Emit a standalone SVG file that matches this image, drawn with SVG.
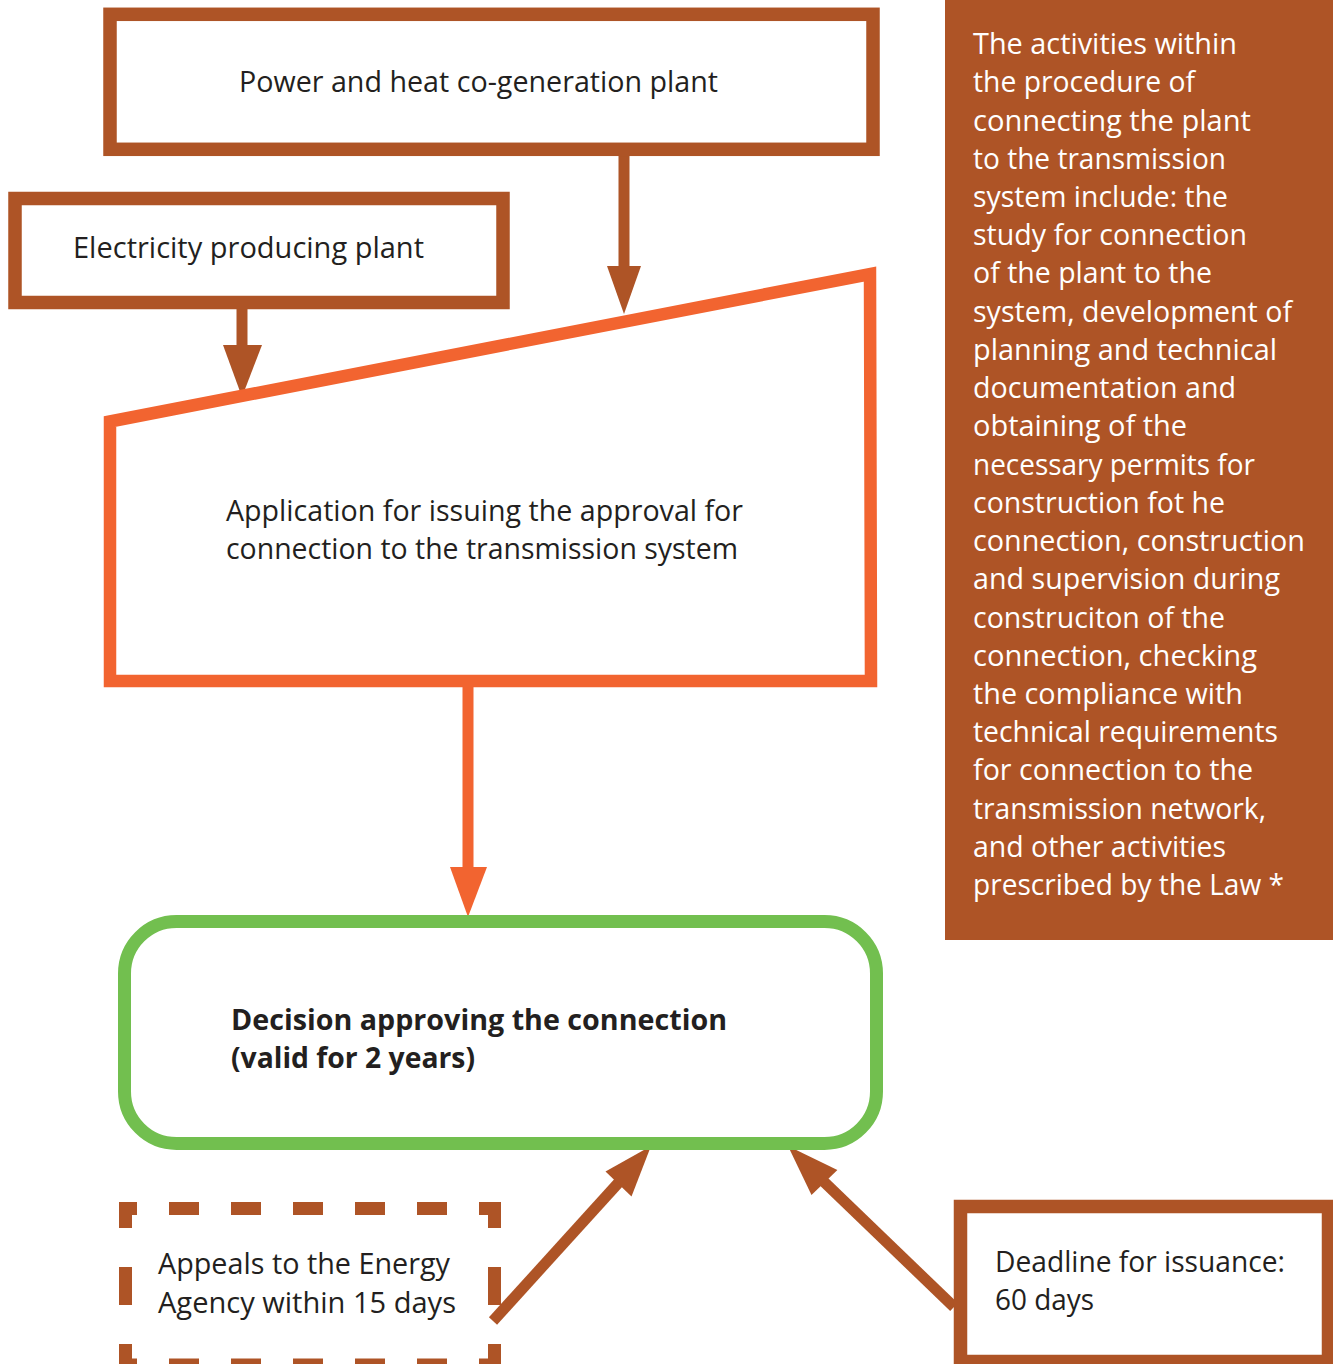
<svg xmlns="http://www.w3.org/2000/svg" width="1333" height="1364" viewBox="0 0 1333 1364">
<style>
.t{font-family:"Open Sans","Liberation Sans",sans-serif;font-size:29px;fill:#231F20}
.b{font-weight:bold}
.w{font-family:"Open Sans","Liberation Sans",sans-serif;font-size:29px;fill:#FFFFFF}
.brown{fill:#FFFFFF;stroke:#AE5426;stroke-width:13.5}
.dash{stroke:#AE5426;stroke-width:13;fill:none}
.abr{stroke:#AE5426;stroke-width:11;fill:none}
.hbr{fill:#AE5426}
.aor{stroke:#F26430;stroke-width:11;fill:none}
.hor{fill:#F26430}
</style>
<rect x="0" y="0" width="1333" height="1364" fill="#FFFFFF"/>

<g id="panel">
<rect x="945" y="0" width="388" height="940" fill="#AE5426"/>
<text class="w" x="973" y="54" textLength="264" lengthAdjust="spacingAndGlyphs">The activities within</text>
<text class="w" x="973" y="92.2" textLength="222" lengthAdjust="spacingAndGlyphs">the procedure of</text>
<text class="w" x="973" y="130.5" textLength="278" lengthAdjust="spacingAndGlyphs">connecting the plant</text>
<text class="w" x="973" y="168.7" textLength="253" lengthAdjust="spacingAndGlyphs">to the transmission</text>
<text class="w" x="973" y="206.9" textLength="255" lengthAdjust="spacingAndGlyphs">system include: the</text>
<text class="w" x="973" y="245.2" textLength="274" lengthAdjust="spacingAndGlyphs">study for connection</text>
<text class="w" x="973" y="283.4" textLength="239" lengthAdjust="spacingAndGlyphs">of the plant to the</text>
<text class="w" x="973" y="321.6" textLength="319" lengthAdjust="spacingAndGlyphs">system, development of</text>
<text class="w" x="973" y="359.8" textLength="304" lengthAdjust="spacingAndGlyphs">planning and technical</text>
<text class="w" x="973" y="398.1" textLength="263" lengthAdjust="spacingAndGlyphs">documentation and</text>
<text class="w" x="973" y="436.3" textLength="214" lengthAdjust="spacingAndGlyphs">obtaining of the</text>
<text class="w" x="973" y="474.5" textLength="282" lengthAdjust="spacingAndGlyphs">necessary permits for</text>
<text class="w" x="973" y="512.8" textLength="252" lengthAdjust="spacingAndGlyphs">construction fot he</text>
<text class="w" x="973" y="551" textLength="332" lengthAdjust="spacingAndGlyphs">connection, construction</text>
<text class="w" x="973" y="589.2" textLength="307" lengthAdjust="spacingAndGlyphs">and supervision during</text>
<text class="w" x="973" y="627.5" textLength="252" lengthAdjust="spacingAndGlyphs">construciton of the</text>
<text class="w" x="973" y="665.7" textLength="284" lengthAdjust="spacingAndGlyphs">connection, checking</text>
<text class="w" x="973" y="703.9" textLength="270" lengthAdjust="spacingAndGlyphs">the compliance with</text>
<text class="w" x="973" y="742.1" textLength="305" lengthAdjust="spacingAndGlyphs">technical requirements</text>
<text class="w" x="973" y="780.4" textLength="280" lengthAdjust="spacingAndGlyphs">for connection to the</text>
<text class="w" x="973" y="818.6" textLength="293" lengthAdjust="spacingAndGlyphs">transmission network,</text>
<text class="w" x="973" y="856.8" textLength="253" lengthAdjust="spacingAndGlyphs">and other activities</text>
<text class="w" x="973" y="895.1" textLength="311" lengthAdjust="spacingAndGlyphs">prescribed by the Law *</text>
</g>

<g id="connectors">
<line class="abr" x1="624" y1="155" x2="624" y2="268"/>
<polygon class="hbr" points="607,266 641,266 624,314"/>
<line class="abr" x1="242" y1="305" x2="242" y2="347"/>
<polygon class="hbr" points="223,345 262,345 242,397"/>
<line class="aor" x1="468" y1="686" x2="468" y2="869"/>
<polygon class="hor" points="450,867 487,867 468,917"/>
<line class="abr" x1="493" y1="1321" x2="621" y2="1180"/>
<polygon class="hbr" points="651,1146 605.5,1171.5 631.5,1196.5"/>
<line class="abr" x1="954" y1="1307" x2="820" y2="1178"/>
<polygon class="hbr" points="788,1146 837.4,1170 811.5,1195"/>
</g>

<g id="power-heat">
<rect class="brown" x="110" y="14.3" width="763" height="135"/>
<text class="t" x="239" y="91.5" textLength="479" lengthAdjust="spacingAndGlyphs">Power and heat co-generation plant</text>
</g>

<g id="electricity">
<rect class="brown" x="15" y="198.5" width="488" height="104"/>
<text class="t" x="73" y="257.5" textLength="351" lengthAdjust="spacingAndGlyphs">Electricity producing plant</text>
</g>

<g id="application">
<polygon points="110,421.5 870,274 871,681 110,681" fill="#FFFFFF" stroke="#F26430" stroke-width="12.5" stroke-linejoin="miter"/>
<text class="t" x="226" y="521" textLength="517" lengthAdjust="spacingAndGlyphs">Application for issuing the approval for</text>
<text class="t" x="226" y="559" textLength="512" lengthAdjust="spacingAndGlyphs">connection to the transmission system</text>
</g>

<g id="decision">
<rect x="124.5" y="921.5" width="752" height="222" rx="52" ry="52" fill="#FFFFFF" stroke="#72BF4F" stroke-width="13"/>
<text class="t b" x="231" y="1030" textLength="496" lengthAdjust="spacingAndGlyphs">Decision approving the connection</text>
<text class="t b" x="231" y="1068" textLength="244" lengthAdjust="spacingAndGlyphs">(valid for 2 years)</text>
</g>

<g id="appeals">
<line class="dash" x1="119" y1="1208.5" x2="501" y2="1208.5" stroke-dasharray="30 32" stroke-dashoffset="12"/>
<line class="dash" x1="119" y1="1365" x2="501" y2="1365" stroke-dasharray="30 32" stroke-dashoffset="12"/>
<line class="dash" x1="125.5" y1="1202" x2="125.5" y2="1364" stroke-dasharray="38 39" stroke-dashoffset="12"/>
<line class="dash" x1="494.5" y1="1202" x2="494.5" y2="1364" stroke-dasharray="38 39" stroke-dashoffset="12"/>
<text class="t" x="158" y="1274" textLength="292" lengthAdjust="spacingAndGlyphs">Appeals to the Energy</text>
<text class="t" x="158" y="1312.5" textLength="298" lengthAdjust="spacingAndGlyphs">Agency within 15 days</text>
</g>

<g id="deadline">
<rect class="brown" x="960.5" y="1206.5" width="368" height="155"/>
<text class="t" x="995" y="1272" textLength="290" lengthAdjust="spacingAndGlyphs">Deadline for issuance:</text>
<text class="t" x="995" y="1309.5" textLength="99" lengthAdjust="spacingAndGlyphs">60 days</text>
</g>
</svg>
